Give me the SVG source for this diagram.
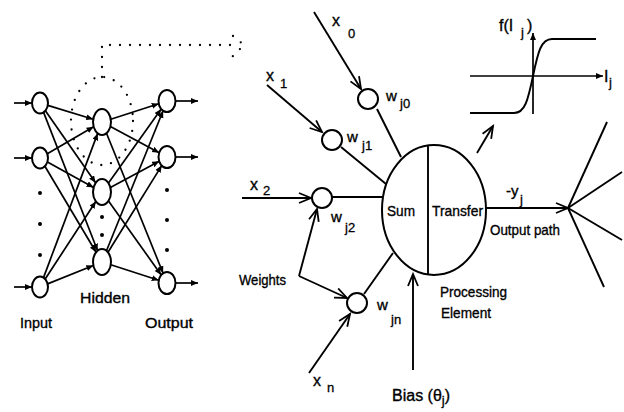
<svg xmlns="http://www.w3.org/2000/svg" width="624" height="412" viewBox="0 0 624 412">
  <style>
    .ln { stroke: #000; stroke-width: 1.9; fill: none; }
    .ed { stroke: #000; stroke-width: 1.7; fill: none; marker-end: url(#tri); }
    .wa { stroke: #000; stroke-width: 1.9; fill: none; marker-end: url(#vee); }
    .nd { fill: #fff; stroke: #000; stroke-width: 2; }
    .dot { stroke: #000; stroke-width: 2.3; fill: none; stroke-linecap: round; stroke-dasharray: 0 10; }
    .t { font-family: "Liberation Sans", Arial, sans-serif; font-size: 15px; fill: #000; stroke: #000; stroke-width: 0.35; }
    .v { font-family: "Liberation Sans", Arial, sans-serif; font-size: 16px; fill: #000; stroke: #000; stroke-width: 0.35; }
    .s { font-family: "Liberation Sans", Arial, sans-serif; font-size: 13px; fill: #000; stroke: #000; stroke-width: 0.3; }
  </style>
  <defs>
    <marker id="tri" markerUnits="userSpaceOnUse" markerWidth="8" markerHeight="7" refX="7" refY="3" orient="auto">
      <path d="M0,0 L7,3 L0,6 z" fill="#000"/>
    </marker>
    <marker id="vee" markerUnits="userSpaceOnUse" markerWidth="16" markerHeight="14" refX="13" refY="6" orient="auto">
      <path d="M1,1 L13,6 L1,11" fill="none" stroke="#000" stroke-width="1.8"/>
    </marker>
  </defs>

  <rect width="624" height="412" fill="#fff"/>

  <!-- multilayer network: connections -->
  <g id="net-edges">
    <line class="ed" x1="14" y1="103" x2="32" y2="103"/>
    <line class="ed" x1="14" y1="158" x2="32" y2="158"/>
    <line class="ed" x1="14" y1="287" x2="32" y2="287"/>

    <line class="ed" x1="47.8" y1="105.4" x2="93.2" y2="119.3"/>
    <line class="ed" x1="45.4" y1="110.7" x2="95.6" y2="182.8"/>
    <line class="ed" x1="43.6" y1="112.4" x2="97.6" y2="250.7"/>
    <line class="ed" x1="47.3" y1="153.8" x2="93.6" y2="126.8"/>
    <line class="ed" x1="47.4" y1="162.0" x2="93.6" y2="187.4"/>
    <line class="ed" x1="44.9" y1="166.3" x2="96.1" y2="252.2"/>
    <line class="ed" x1="43.5" y1="277.6" x2="97.7" y2="133.4"/>
    <line class="ed" x1="45.2" y1="279.0" x2="95.8" y2="201.5"/>
    <line class="ed" x1="47.6" y1="283.9" x2="93.3" y2="265.5"/>

    <line class="ed" x1="110.8" y1="119.2" x2="158.7" y2="103.7"/>
    <line class="ed" x1="110.4" y1="126.5" x2="159.2" y2="152.8"/>
    <line class="ed" x1="106.5" y1="133.2" x2="163.1" y2="273.2"/>
    <line class="ed" x1="108.5" y1="183.0" x2="161.2" y2="109.1"/>
    <line class="ed" x1="110.4" y1="187.5" x2="159.2" y2="161.2"/>
    <line class="ed" x1="108.5" y1="201.0" x2="161.2" y2="274.9"/>
    <line class="ed" x1="106.5" y1="250.8" x2="163.1" y2="110.8"/>
    <line class="ed" x1="108.0" y1="252.3" x2="161.7" y2="165.6"/>
    <line class="ed" x1="110.8" y1="264.8" x2="158.7" y2="280.3"/>

    <line class="ed" x1="175" y1="101" x2="198" y2="101"/>
    <line class="ed" x1="175" y1="157" x2="198" y2="157"/>
    <line class="ed" x1="175" y1="283" x2="198" y2="283"/>
  </g>

  <!-- dotted call-out from a hidden unit to the processing element -->
  <g id="callout">
    <ellipse class="dot" cx="102" cy="121" rx="31" ry="44"/>
    <path class="dot" d="M102,77 L102,45 L240,45"/>
    <path class="dot" stroke-dasharray="0 8" d="M233,36 L244,45 L232,57"/>
  </g>

  <!-- multilayer network: units -->
  <g id="input-layer">
    <ellipse class="nd" cx="40" cy="103" rx="8" ry="10.5"/>
    <ellipse class="nd" cx="40" cy="158" rx="8" ry="10.5"/>
    <ellipse class="nd" cx="40" cy="287" rx="8" ry="10.5"/>
    <circle cx="40" cy="193" r="2"/>
    <circle cx="40" cy="224" r="2"/>
    <circle cx="40" cy="255" r="2"/>
    <text class="t" x="20" y="328" textLength="32" lengthAdjust="spacingAndGlyphs">Input</text>
  </g>
  <g id="hidden-layer">
    <ellipse class="nd" cx="102" cy="122" rx="9" ry="13"/>
    <ellipse class="nd" cx="102" cy="192" rx="9" ry="13"/>
    <ellipse class="nd" cx="102" cy="262" rx="9" ry="13"/>
    <circle cx="102" cy="217" r="2"/>
    <circle cx="102" cy="235" r="2"/>
    <text class="t" x="80" y="303" textLength="50" lengthAdjust="spacingAndGlyphs">Hidden</text>
  </g>
  <g id="output-layer">
    <ellipse class="nd" cx="167" cy="101" rx="8.5" ry="11"/>
    <ellipse class="nd" cx="167" cy="157" rx="8.5" ry="11"/>
    <ellipse class="nd" cx="167" cy="283" rx="8.5" ry="11"/>
    <circle cx="167" cy="190" r="2"/>
    <circle cx="167" cy="220" r="2"/>
    <circle cx="167" cy="250" r="2"/>
    <text class="t" x="145" y="328" textLength="48" lengthAdjust="spacingAndGlyphs">Output</text>
  </g>

  <!-- processing element: connectors -->
  <g id="pe-connectors">
    <line class="wa" x1="314" y1="12" x2="361" y2="89"/>
    <line class="wa" x1="267" y1="85" x2="322" y2="132"/>
    <line class="wa" x1="242" y1="198" x2="311" y2="198"/>
    <line class="wa" x1="309" y1="373" x2="350" y2="314"/>
    <line class="wa" x1="299" y1="276" x2="317" y2="209"/>
    <line class="wa" x1="299" y1="276" x2="347" y2="298"/>

    <line class="ln" x1="377" y1="109" x2="401" y2="157"/>
    <line class="ln" x1="341" y1="147" x2="386" y2="184"/>
    <line class="ln" x1="332" y1="197" x2="383" y2="197"/>
    <line class="ln" x1="364" y1="294" x2="393" y2="253"/>

    <line class="wa" x1="413" y1="370" x2="413" y2="274"/>
    <line class="wa" x1="486" y1="208" x2="568" y2="208"/>
    <line class="wa" x1="477" y1="153" x2="493" y2="126"/>

    <line class="ln" x1="568" y1="208" x2="607" y2="122"/>
    <line class="ln" x1="568" y1="208" x2="622" y2="172"/>
    <line class="ln" x1="568" y1="208" x2="622" y2="240"/>
    <line class="ln" x1="568" y1="208" x2="604" y2="287"/>
  </g>

  <!-- weight units -->
  <g id="w-j0">
    <circle class="nd" cx="368" cy="99" r="10"/>
    <text class="t" x="386" y="101">w</text>
    <text class="s" x="400" y="108">j0</text>
  </g>
  <g id="w-j1">
    <circle class="nd" cx="332" cy="140" r="10"/>
    <text class="t" x="347" y="142">w</text>
    <text class="s" x="362" y="150">j1</text>
  </g>
  <g id="w-j2">
    <circle class="nd" cx="322" cy="198" r="10"/>
    <text class="t" x="331" y="222">w</text>
    <text class="s" x="345" y="232">j2</text>
  </g>
  <g id="w-jn">
    <circle class="nd" cx="357" cy="303" r="10"/>
    <text class="t" x="377" y="310">w</text>
    <text class="s" x="391" y="324">jn</text>
  </g>

  <!-- inputs -->
  <g id="x0"><text class="v" x="332" y="26">x</text><text class="s" x="348" y="38">0</text></g>
  <g id="x1"><text class="v" x="266" y="81">x</text><text class="s" x="280" y="88">1</text></g>
  <g id="x2"><text class="v" x="250" y="190">x</text><text class="s" x="263" y="195">2</text></g>
  <g id="xn"><text class="v" x="313" y="386">x</text><text class="s" x="327" y="392">n</text></g>
  <g id="weights-label"><text class="t" x="239" y="285" textLength="47" lengthAdjust="spacingAndGlyphs">Weights</text></g>

  <!-- processing element -->
  <g id="processing-element">
    <ellipse class="nd" cx="434" cy="210" rx="52" ry="65"/>
    <line class="ln" x1="428" y1="145.5" x2="428" y2="274.5"/>
    <text class="t" x="387" y="216" textLength="28" lengthAdjust="spacingAndGlyphs">Sum</text>
    <text class="t" x="432" y="216" textLength="51" lengthAdjust="spacingAndGlyphs">Transfer</text>
    <text class="t" x="440" y="297" textLength="67" lengthAdjust="spacingAndGlyphs">Processing</text>
    <text class="t" x="441" y="318" textLength="50" lengthAdjust="spacingAndGlyphs">Element</text>
  </g>
  <g id="bias-label">
    <text class="v" x="392" y="401">Bias (θ<tspan class="s" dy="4">j</tspan><tspan dy="-4">)</tspan></text>
  </g>
  <g id="output-label">
    <text class="t" x="506" y="196">-y</text>
    <text class="s" x="520" y="204">j</text>
    <text class="t" x="490" y="235" textLength="70" lengthAdjust="spacingAndGlyphs">Output path</text>
  </g>

  <!-- transfer function plot -->
  <g id="transfer-plot">
    <line class="ed" x1="470" y1="76" x2="603" y2="76"/>
    <line class="ed" x1="533" y1="114" x2="533" y2="33"/>
    <path class="ln" d="M470,113 L514,113 C525,113 528,100 533,76 C538,52 541,39 552,39 L596,39"/>
    <text class="v" x="499" y="31">f(I</text>
    <text class="s" x="521" y="37">j</text>
    <text class="v" x="527" y="31">)</text>
    <text class="v" x="604" y="82">I</text>
    <text class="s" x="609" y="87">j</text>
  </g>
</svg>
